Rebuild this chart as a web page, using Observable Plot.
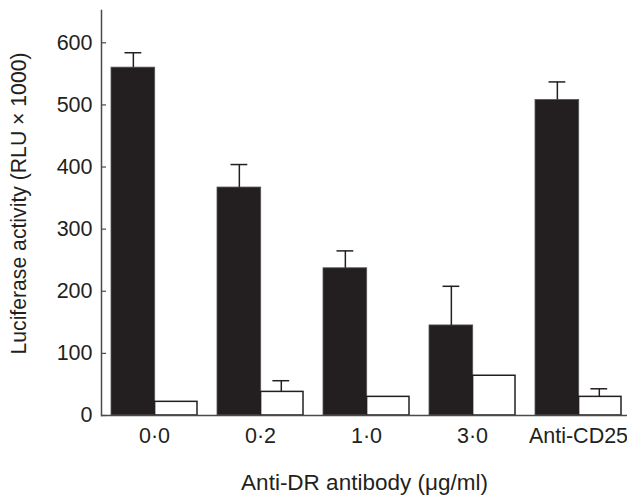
<!DOCTYPE html>
<html>
<head>
<meta charset="utf-8">
<script src="https://cdn.jsdelivr.net/npm/d3@7"></script>
<script src="https://cdn.jsdelivr.net/npm/@observablehq/plot@0.6"></script>
<style>
  html, body { margin: 0; padding: 0; background: #fff; }
  #chart { width: 627px; height: 495px; }
</style>
</head>
<body>
<div id="chart"></div>
<script>
const groups = ["0·0", "0·2", "1·0", "3·0", "Anti-CD25"];
const blackValues = [560, 367, 237, 145, 508];
const blackErrors = [24, 37, 28, 63, 29];
const whiteValues = [22, 38, 30, 64, 30];
const whiteErrors = [0, 18, 0, 0, 13];
const yTicks = [0, 100, 200, 300, 400, 500, 600];
const yLabel = "Luciferase activity (RLU × 1000)";
const xLabel = "Anti-DR antibody (μg/ml)";

const black = groups.map((g, i) => ({group: g, value: blackValues[i], err: blackErrors[i]}));
const white = groups.map((g, i) => ({group: g, value: whiteValues[i], err: whiteErrors[i]}));
const whiteWithErr = white.filter(d => d.err > 0);

const ink = "#231f20";
const axisInk = "#4a4a4a";

const chart = Plot.plot({
  width: 627,
  height: 495,
  marginLeft: 101,
  marginRight: 0,
  marginTop: 10,
  marginBottom: 80,
  style: {fontFamily: "'Liberation Sans', Arial, sans-serif", fontSize: "21px", color: ink, background: "#fff"},
  x: {domain: groups, paddingInner: 0.19, paddingOuter: 0.0754, align: 0.6, label: null},
  y: {domain: [0, 652], label: null},
  marks: [
    Plot.barY(black, {x: "group", y: "value", fill: ink, stroke: "#555", strokeWidth: 0.8, insetLeft: 0, insetRight: 42.3}),
    Plot.barY(white, {x: "group", y: "value", fill: "#fff", stroke: ink, strokeWidth: 1.5, insetLeft: 43.6, insetRight: 0}),
    Plot.ruleX(black, {x: "group", y1: "value", y2: d => d.value + d.err, dx: -21.15, stroke: ink, strokeWidth: 1.5}),
    Plot.tickY(black, {x: "group", y: d => d.value + d.err, insetLeft: 13.5, insetRight: 55.7, stroke: ink, strokeWidth: 1.5}),
    Plot.ruleX(whiteWithErr, {x: "group", y1: "value", y2: d => d.value + d.err, dx: 20.8, stroke: ink, strokeWidth: 1.5}),
    Plot.tickY(whiteWithErr, {x: "group", y: d => d.value + d.err, insetLeft: 55.4, insetRight: 13.8, stroke: ink, strokeWidth: 1.5}),
    Plot.frame({anchor: "left", stroke: axisInk, strokeWidth: 1.5}),
    Plot.ruleY([0], {stroke: axisInk, strokeWidth: 1.5}),
    Plot.axisY(yTicks, {tickSize: -5, tickPadding: 14, fontSize: 21.5, stroke: axisInk, strokeWidth: 1.2, fill: ink, label: null}),
    Plot.axisX({tickSize: 0, tickPadding: 12, fontSize: 21.5, fill: ink, label: null}),
    Plot.text([yLabel], {frameAnchor: "left", rotate: -90, dx: -82.5, dy: -9.5, fontSize: 21.2, fill: ink, lineAnchor: "middle", textAnchor: "middle"}),
    Plot.text([xLabel], {frameAnchor: "bottom", dy: 67, fontSize: 22.5, fill: ink, lineAnchor: "middle", textAnchor: "middle"})
  ]
});
document.getElementById("chart").appendChild(chart);
</script>
</body>
</html>
